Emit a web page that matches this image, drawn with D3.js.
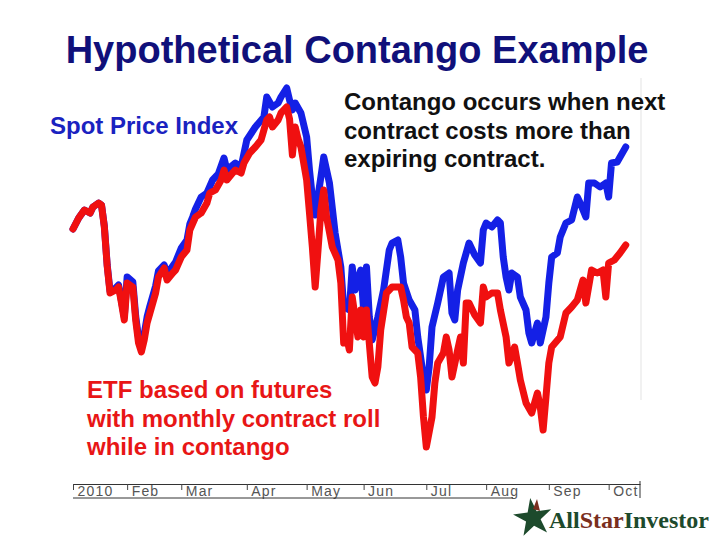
<!DOCTYPE html>
<html>
<head>
<meta charset="utf-8">
<script src="https://cdn.jsdelivr.net/npm/d3@7"></script>
<style>
  body { margin: 0; background: #fff; }
  svg { display: block; font-family: "Liberation Sans", Arial, sans-serif; }
</style>
</head>
<body>
<div id="chart"></div>
<script>
// month labels on the axis and the trading day each month starts on
const months = ["2010", "Feb", "Mar", "Apr", "May", "Jun", "Jul", "Aug", "Sep", "Oct"];
const monthStartDay = [0, 19, 38, 61, 82, 102, 124, 145, 167, 188];

// spot price index (blue), trading day -> index level
const spotDays = [0, 2, 4, 6, 7, 9, 10, 11, 12, 13, 15, 16, 17, 18, 19, 21, 22, 23, 24, 25, 26, 27, 29, 30, 32, 33, 35, 36, 38, 40, 41, 42, 43, 45, 47, 49, 51, 53, 54, 57, 59, 61, 64, 67, 68, 70, 72, 73, 75, 76, 77, 78, 80, 82, 83, 84, 85, 87, 88, 90, 92, 94, 95, 97, 98, 99, 101, 102, 103, 104, 105, 107, 109, 111, 112, 114, 115, 116, 118, 120, 121, 123, 124, 125, 126, 128, 130, 132, 133, 134, 135, 137, 139, 141, 143, 144, 145, 147, 149, 150, 151, 152, 153, 154, 156, 157, 159, 160, 161, 163, 164, 166, 167, 168, 170, 171, 173, 175, 177, 178, 180, 181, 183, 185, 187, 188, 189, 191, 192, 194];
const spotValues = [100.0, 102.2, 103.8, 103.2, 104.4, 105.2, 104.8, 100.6, 92.8, 87.6, 88.2, 88.8, 85.6, 82.4, 90.4, 89.4, 82.6, 78.2, 76.4, 79.0, 82.4, 84.6, 88.6, 91.6, 92.8, 91.0, 92.6, 93.4, 96.2, 97.8, 101.0, 102.4, 104.0, 106.4, 107.2, 109.8, 111.0, 114.2, 111.8, 113.2, 112.4, 117.8, 120.4, 122.4, 126.4, 124.4, 125.2, 126.4, 128.2, 125.8, 123.8, 125.2, 123.2, 118.4, 111.8, 106.4, 102.8, 110.4, 114.4, 109.2, 99.2, 92.4, 84.4, 83.8, 92.4, 87.8, 91.8, 83.8, 92.4, 82.4, 77.8, 82.4, 87.8, 95.8, 97.2, 97.8, 94.4, 89.2, 85.8, 83.8, 78.4, 70.4, 67.8, 72.4, 80.4, 85.2, 90.4, 91.2, 83.2, 81.8, 87.8, 93.2, 97.2, 94.8, 93.2, 99.8, 101.2, 100.4, 101.8, 101.2, 94.4, 90.4, 87.8, 91.2, 90.4, 86.4, 83.8, 79.2, 77.2, 81.2, 77.2, 82.4, 89.2, 94.4, 95.2, 98.4, 101.2, 101.8, 106.4, 105.2, 102.4, 109.2, 109.2, 108.4, 109.2, 106.4, 113.2, 113.4, 114.4, 116.4];

// ETF on futures with monthly roll (red)
const etfDays = [0, 2, 4, 6, 7, 9, 10, 11, 12, 13, 15, 16, 17, 18, 19, 21, 22, 23, 24, 25, 26, 27, 29, 30, 32, 33, 35, 36, 38, 40, 41, 43, 45, 47, 48, 50, 52, 53, 54, 56, 57, 59, 60, 62, 64, 66, 67, 68, 69, 70, 72, 73, 74, 75, 76, 77, 78, 79, 80, 82, 83, 84, 85, 86, 87, 88, 89, 91, 93, 94, 95, 96, 97, 98, 100, 101, 102, 103, 105, 106, 107, 108, 110, 112, 115, 116, 117, 118, 119, 121, 122, 123, 124, 126, 127, 128, 130, 131, 132, 133, 135, 136, 137, 138, 139, 141, 143, 144, 145, 147, 149, 150, 152, 153, 155, 156, 157, 159, 161, 163, 164, 165, 166, 167, 168, 171, 173, 175, 177, 179, 180, 182, 184, 186, 187, 188, 190, 192, 194];
const etfValues = [100.0, 102.2, 103.8, 103.2, 104.4, 105.2, 104.8, 100.4, 92.6, 87.2, 87.8, 88.4, 85.2, 81.8, 89.2, 88.4, 81.8, 77.2, 75.4, 77.8, 81.2, 83.2, 87.2, 90.4, 92.2, 89.8, 91.2, 91.8, 94.4, 95.8, 99.8, 102.4, 103.2, 105.2, 107.2, 107.8, 109.8, 111.8, 109.8, 111.2, 111.8, 111.2, 113.2, 115.2, 116.4, 117.8, 119.8, 121.8, 122.4, 120.4, 121.8, 123.2, 123.8, 124.4, 122.0, 114.8, 120.4, 118.0, 116.4, 109.8, 103.2, 96.4, 88.4, 95.8, 103.8, 107.8, 102.4, 96.4, 93.8, 89.2, 77.2, 78.4, 75.8, 86.4, 78.4, 83.8, 78.4, 83.8, 70.4, 69.2, 72.4, 79.8, 87.2, 88.4, 88.4, 85.8, 82.4, 81.2, 76.4, 75.2, 70.4, 62.4, 56.4, 62.4, 69.2, 73.2, 75.2, 78.4, 75.8, 70.4, 75.8, 78.4, 73.2, 85.2, 85.2, 82.8, 81.2, 88.4, 86.4, 87.2, 87.2, 83.8, 78.4, 73.2, 76.4, 73.2, 69.8, 65.2, 63.2, 67.2, 64.4, 59.8, 66.4, 73.2, 76.4, 78.4, 83.2, 84.4, 85.8, 89.8, 85.2, 91.8, 91.2, 91.8, 86.4, 93.2, 93.8, 95.2, 96.8];

const width = 720;
const height = 540;

const svg = d3
  .select("#chart")
  .append("svg")
  .attr("width", width)
  .attr("height", height);

svg.append("rect").attr("width", width).attr("height", height).attr("fill", "#fff");

// Scales
const xScale = d3.scaleLinear().domain([0, 199]).range([73, 640]);
const yScale = d3.scaleLinear().domain([40, 140]).range([529, 29]);

// faint frame line on the right of the plot
svg
  .append("line")
  .attr("x1", 641)
  .attr("x2", 641)
  .attr("y1", 78)
  .attr("y2", 400)
  .attr("stroke", "#ececec")
  .attr("stroke-width", 1.5);

// Lines
const line = d3
  .line()
  .x((d) => xScale(d[0]))
  .y((d) => yScale(d[1]));

const series = [
  { color: "#1420e6", days: spotDays, values: spotValues },
  { color: "#f01010", days: etfDays, values: etfValues },
];

svg
  .selectAll(".series")
  .data(series)
  .enter()
  .append("path")
  .attr("class", "series")
  .attr("d", (s) => line(s.days.map((d, i) => [d, s.values[i]])))
  .attr("fill", "none")
  .attr("stroke", (s) => s.color)
  .attr("stroke-width", 7)
  .attr("stroke-linejoin", "round")
  .attr("stroke-linecap", "round");

// Axis
const axisY = 484;
const logoLeft = 513;
const xAxis = d3
  .axisBottom(xScale)
  .tickValues(monthStartDay)
  .tickFormat((d, i) => months[i])
  .tickSize(6)
  .tickSizeOuter(0);

const axis = svg
  .append("g")
  .attr("transform", `translate(0, ${axisY})`)
  .call(xAxis);

axis.select(".domain").attr("stroke", "#333");
axis.selectAll(".tick line").attr("stroke", "#444");
axis
  .selectAll(".tick text")
  .attr("text-anchor", "start")
  .attr("x", 4)
  .attr("y", 12)
  .attr("dy", 0)
  .attr("fill", "#555")
  .style("font-family", '"Liberation Sans", Arial, sans-serif')
  .style("font-size", "14px")
  .style("letter-spacing", "1.2px");

svg
  .append("line")
  .attr("x1", xScale(0))
  .attr("x2", logoLeft)
  .attr("y1", axisY + 14)
  .attr("y2", axisY + 14)
  .attr("stroke", "#333");

svg
  .append("line")
  .attr("x1", xScale(199))
  .attr("x2", xScale(199))
  .attr("y1", axisY - 3)
  .attr("y2", axisY + 14)
  .attr("stroke", "#333");

// Title
svg
  .append("text")
  .attr("x", 357)
  .attr("y", 63)
  .attr("text-anchor", "middle")
  .attr("fill", "#10107a")
  .style("font-size", "38px")
  .style("font-weight", "bold")
  .text("Hypothetical Contango Example");

// Annotations
svg
  .append("text")
  .attr("x", 50)
  .attr("y", 134)
  .attr("fill", "#1a22c0")
  .style("font-size", "24px")
  .style("font-weight", "bold")
  .text("Spot Price Index");

const notes = [
  { x: 344, y: 110, color: "#111", lines: ["Contango occurs when next", "contract costs more than", "expiring contract."] },
  { x: 87, y: 398, color: "#e81616", lines: ["ETF based on futures", "with monthly contract roll", "while in contango"] },
];

notes.forEach((n) => {
  const t = svg
    .append("text")
    .attr("fill", n.color)
    .style("font-size", "24px")
    .style("font-weight", "bold");
  t.selectAll("tspan")
    .data(n.lines)
    .enter()
    .append("tspan")
    .attr("x", n.x)
    .attr("y", (d, i) => n.y + i * 28.7)
    .text((d) => d);
});

// Logo
const logo = svg.append("g");

logo
  .append("path")
  .attr("d", d3.symbol(d3.symbolStar).size(460)())
  .attr("transform", "translate(533, 518) rotate(-8)")
  .attr("fill", "#1d4a2c");

logo
  .append("path")
  .attr("d", "M533,509 L537,499 L540,511 Z")
  .attr("fill", "#7a2e1e");

const logoText = logo
  .append("text")
  .attr("x", 549)
  .attr("y", 528)
  .style("font-family", '"Liberation Serif", "DejaVu Serif", serif')
  .style("font-size", "24px")
  .style("font-weight", "bold");

logoText.append("tspan").attr("fill", "#1d4a2c").text("All");
logoText.append("tspan").attr("fill", "#7a2e1e").text("Star");
logoText.append("tspan").attr("fill", "#1d4a2c").text("Investor");
</script>
</body>
</html>
